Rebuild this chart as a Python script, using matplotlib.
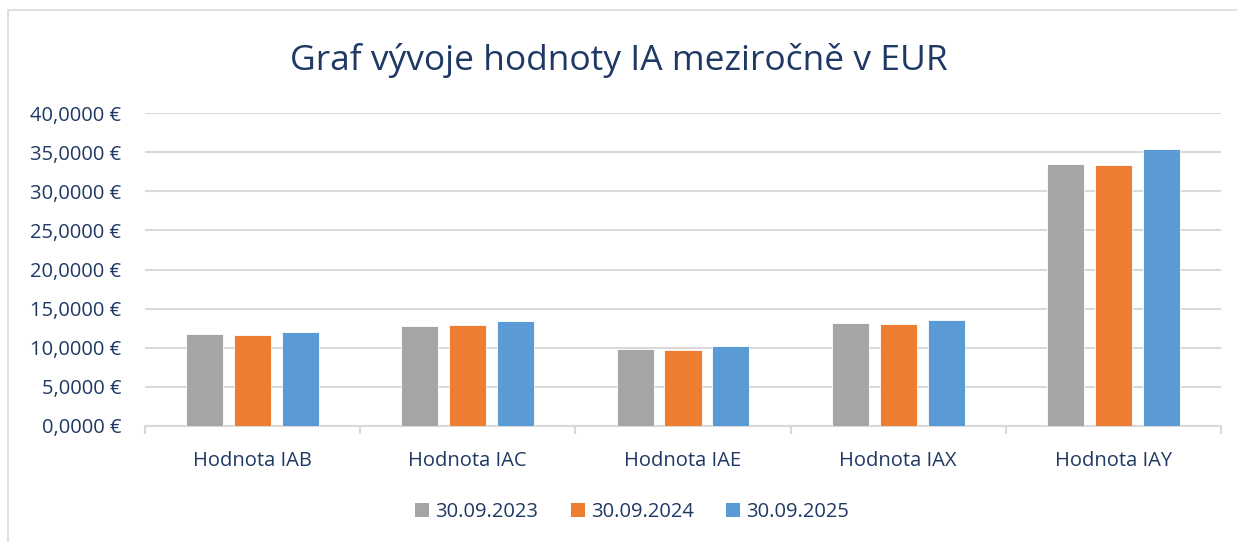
import numpy as np
import matplotlib.pyplot as plt
from matplotlib.patches import Rectangle, Patch

plt.rcParams['font.family'] = ['Open Sans', 'DejaVu Sans']

categories = ['Hodnota IAB', 'Hodnota IAC', 'Hodnota IAE', 'Hodnota IAX', 'Hodnota IAY']
series_names = ['30.09.2023', '30.09.2024', '30.09.2025']
v2023 = [11.72, 12.82, 9.84, 13.12, 33.52]
v2024 = [11.59, 12.90, 9.72, 13.00, 33.35]
v2025 = [12.05, 13.46, 10.20, 13.55, 35.44]
yticks = [0, 5, 10, 15, 20, 25, 30, 35, 40]

colors = ['#A5A5A5', '#ED7D31', '#5B9BD5']
navy = '#1F3864'
grid = '#D9D9D9'

fig = plt.figure(figsize=(12.37, 5.42), dpi=100)
fig.patches.append(Rectangle((8 / 1237, -0.01), 1.02, 1 - 10 / 542 + 0.01,
                             transform=fig.transFigure, fill=False,
                             edgecolor='#D9D9D9', linewidth=1.2))

ax = fig.add_axes([145 / 1237, 1 - 426 / 542, (1221 - 145) / 1237, (426 - 113) / 542])

x = np.arange(len(categories))
w = 0.172
step = 0.223
for i, vals in enumerate([v2023, v2024, v2025]):
    ax.bar(x + (i - 1) * step, vals, width=w, color=colors[i],
           edgecolor='white', linewidth=0.6, label=series_names[i], zorder=3)

ax.set_xlim(-0.5, len(categories) - 0.5)
ax.set_ylim(0, 40)
ax.set_yticks(yticks)
ax.set_yticklabels([f'{v},0000 €' for v in yticks])
ax.set_xticks(x)
ax.set_xticklabels(categories)
ax.set_xticks(np.arange(-0.5, len(categories)), minor=True)

ax.grid(axis='y', color=grid, linewidth=1.5, zorder=0)
for s in ['top', 'right', 'left']:
    ax.spines[s].set_visible(False)
ax.spines['bottom'].set_color(grid)
ax.spines['bottom'].set_linewidth(1.5)

ax.tick_params(axis='y', length=0, labelsize=14.5, labelcolor=navy, pad=17)
ax.tick_params(axis='x', which='major', length=0, labelsize=14.5, labelcolor=navy, pad=18)
ax.tick_params(axis='x', which='minor', length=6, width=1.5, color=grid)

fig.text(0.5, 1 - 60 / 542, 'Graf vývoje hodnoty IA meziročně v EUR',
         ha='center', va='center', fontsize=25.5, color=navy)

handles = [Patch(facecolor=c, label=n) for c, n in zip(colors, series_names)]
fig.legend(handles=handles, loc='center', bbox_to_anchor=(632 / 1237, 1 - 512 / 542),
           ncol=3, frameon=False, fontsize=14.5, labelcolor=navy,
           handlelength=0.7, handleheight=0.7, handletextpad=0.3, columnspacing=1.6)

fig.savefig('out.png', dpi=100)
